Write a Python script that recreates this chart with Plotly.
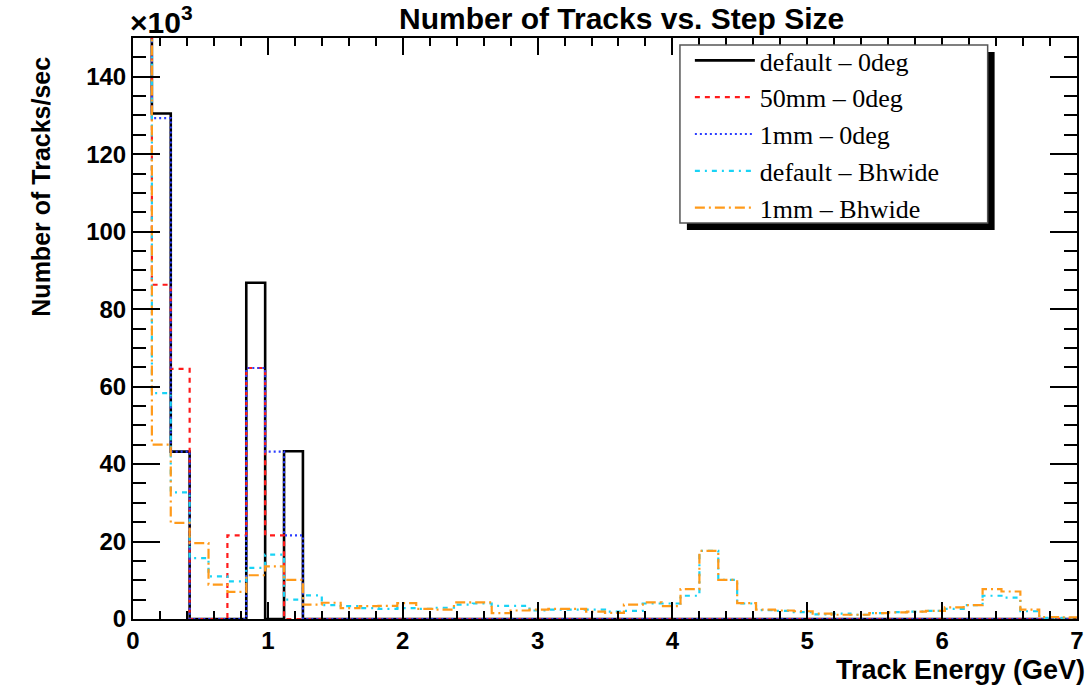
import numpy as np
import plotly.graph_objects as go

# ---------------- data (k tracks/sec per 0.14 GeV bin, 0..7 GeV, 50 bins) ----------------
bin_width = 0.14
x_min, x_max = 0.0, 7.0

default_0deg = [200, 130.5, 43.2, 0, 0, 0, 86.8, 0, 43.3, 0,
                0, 0, 0, 0, 0, 0, 0, 0, 0, 0,
                0, 0, 0, 0, 0, 0, 0, 0, 0, 0,
                0, 0, 0, 0, 0, 0, 0, 0, 0, 0,
                0, 0, 0, 0, 0, 0, 0, 0, 0, 0]
mm50_0deg = [200, 86.3, 64.6, 0, 0, 21.6, 64.8, 21.6, 0, 0,
             0, 0, 0, 0, 0, 0, 0, 0, 0, 0,
             0, 0, 0, 0, 0, 0, 0, 0, 0, 0,
             0, 0, 0, 0, 0, 0, 0, 0, 0, 0,
             0, 0, 0, 0, 0, 0, 0, 0, 0, 0]
mm1_0deg = [200, 129.3, 43.2, 0, 0, 0, 64.8, 43.2, 21.6, 0,
            0, 0, 0, 0, 0, 0, 0, 0, 0, 0,
            0, 0, 0, 0, 0, 0, 0, 0, 0, 0,
            0, 0, 0, 0, 0, 0, 0, 0, 0, 0,
            0, 0, 0, 0, 0, 0, 0, 0, 0, 0]
default_bhwide = [200, 58.3, 32.7, 15.7, 11.0, 9.7, 13.2, 16.6, 5.0, 6.1,
                  3.6, 3.3, 2.8, 2.6, 2.8, 2.6, 2.9, 3.7, 4.0, 3.4,
                  3.4, 2.2, 2.4, 2.4, 2.4, 1.9, 2.1, 4.0, 4.0, 6.0,
                  17.6, 10.1, 4.0, 2.3, 2.1, 1.8, 1.2, 1.4, 1.1, 1.5,
                  1.8, 1.9, 2.1, 2.6, 3.6, 6.0, 5.5, 2.0, 0.3, 0.3]
mm1_bhwide = [200, 45.0, 24.8, 19.6, 8.9, 7.0, 11.3, 13.6, 10.1, 3.7,
              4.2, 2.8, 3.3, 3.4, 4.1, 2.6, 2.4, 4.3, 4.3, 1.5,
              2.2, 2.4, 2.6, 2.6, 1.9, 1.6, 3.7, 4.3, 3.3, 7.7,
              17.6, 10.1, 4.1, 2.4, 2.2, 2.0, 1.4, 1.1, 1.1, 1.5,
              1.7, 1.9, 2.1, 3.0, 3.6, 7.7, 7.1, 2.4, 0.5, 0.4]

series_names = ["default – 0deg", "50mm – 0deg", "1mm – 0deg",
                "default – Bhwide", "1mm – Bhwide"]
series_values = [default_0deg, mm50_0deg, mm1_0deg, default_bhwide, mm1_bhwide]

y_ticks = [0, 20, 40, 60, 80, 100, 120, 140]
x_ticks = [0, 1, 2, 3, 4, 5, 6, 7]

# ---------------- styles ----------------
styles = [
    dict(color="black", width=2.6, dash="solid"),
    dict(color="#ff1a1a", width=2.2, dash="5px,5px"),
    dict(color="#2a3cff", width=2.2, dash="2px,3px"),
    dict(color="#19d3f5", width=2.2, dash="5px,5px,2px,5px"),
    dict(color="#ff9a1a", width=2.2, dash="10px,4px,2px,4px"),
]

n_bins = len(default_0deg)
edges = x_min + bin_width * np.arange(n_bins + 1)

fig = go.Figure()
for i in range(len(series_names)):
    vals = series_values[i]
    xs = list(edges[:-1]) + [edges[-1]]
    ys = list(vals) + [vals[-1]]
    fig.add_trace(go.Scatter(
        x=xs, y=ys, mode="lines", line_shape="hv",
        line=styles[i], name=series_names[i],
        showlegend=True, hoverinfo="skip"))

# ---------------- layout ----------------
L, R, T, B = 133, 8, 38, 67
W, H = 1092, 686
pw, ph = W - L - R, H - T - B

def px_x(px):
    return (px - L) / pw

def px_y(py):
    return (H - B - py) / ph

sans = "Liberation Sans, Arial, sans-serif"
tickfont = dict(family=sans, size=24, color="black", weight="bold")

fig.update_layout(
    width=W, height=H,
    margin=dict(l=L, r=R, t=T, b=B),
    paper_bgcolor="white", plot_bgcolor="white",
    showlegend=True,
    legend=dict(
        x=px_x(694), y=px_y(37), xanchor="left", yanchor="top",
        bgcolor="rgba(0,0,0,0)", borderwidth=0,
        font=dict(family="Liberation Serif, Times New Roman, serif", size=26, color="black"),
        tracegroupgap=0, itemwidth=60,
    ),
    xaxis=dict(
        range=[x_min, x_max], tickvals=x_ticks, ticktext=[str(v) for v in x_ticks],
        ticks="inside", ticklen=17, tickwidth=1.5, tickcolor="black",
        showline=True, linecolor="black", linewidth=2, mirror="ticks",
        showgrid=False, zeroline=False, tickfont=tickfont, ticklabelstandoff=-1,
        minor=dict(dtick=0.2, tick0=0, ticks="inside", ticklen=8, tickwidth=1.5,
                   tickcolor="black", showgrid=False),
    ),
    yaxis=dict(
        range=[0, 150], tickvals=y_ticks, ticktext=[str(v) for v in y_ticks],
        ticks="inside", ticklen=27, tickwidth=1.5, tickcolor="black",
        showline=True, linecolor="black", linewidth=2, mirror="ticks",
        showgrid=False, zeroline=False, tickfont=tickfont,
        minor=dict(dtick=5, tick0=0, ticks="inside", ticklen=13, tickwidth=1.5,
                   tickcolor="black", showgrid=False),
    ),
)

# legend box with ROOT-style shadow
fig.add_shape(type="rect", xref="paper", yref="paper",
              x0=px_x(691), x1=px_x(1001), y0=px_y(230), y1=px_y(52),
              fillcolor="black", line=dict(width=0), layer="above")
fig.add_shape(type="rect", xref="paper", yref="paper",
              x0=px_x(684), x1=px_x(994), y0=px_y(223), y1=px_y(45),
              fillcolor="white", line=dict(color="#555555", width=1.5), layer="above")

# title and axis labels
fig.add_annotation(text="Number of Tracks vs. Step Size", xref="paper", yref="paper",
                   x=px_x(625), y=px_y(18), xanchor="center", yanchor="middle",
                   showarrow=False, font=dict(family=sans, size=30, color="black", weight="bold"))
fig.add_annotation(text="Track Energy (GeV)", xref="paper", yref="paper",
                   x=px_x(1094), y=px_y(670), xanchor="right", yanchor="middle",
                   showarrow=False, font=dict(family=sans, size=27, color="black", weight="bold"))
fig.add_annotation(text="Number of Tracks/sec", xref="paper", yref="paper",
                   x=px_x(40), y=px_y(187), xanchor="center", yanchor="middle",
                   textangle=-90, showarrow=False,
                   font=dict(family=sans, size=25, color="black", weight="bold"))
fig.add_annotation(text="×10<sup>3</sup>", xref="paper", yref="paper",
                   x=px_x(128), y=px_y(20), xanchor="left", yanchor="middle",
                   showarrow=False, font=dict(family=sans, size=30, color="black", weight="bold"))

fig.write_html("out.html")
